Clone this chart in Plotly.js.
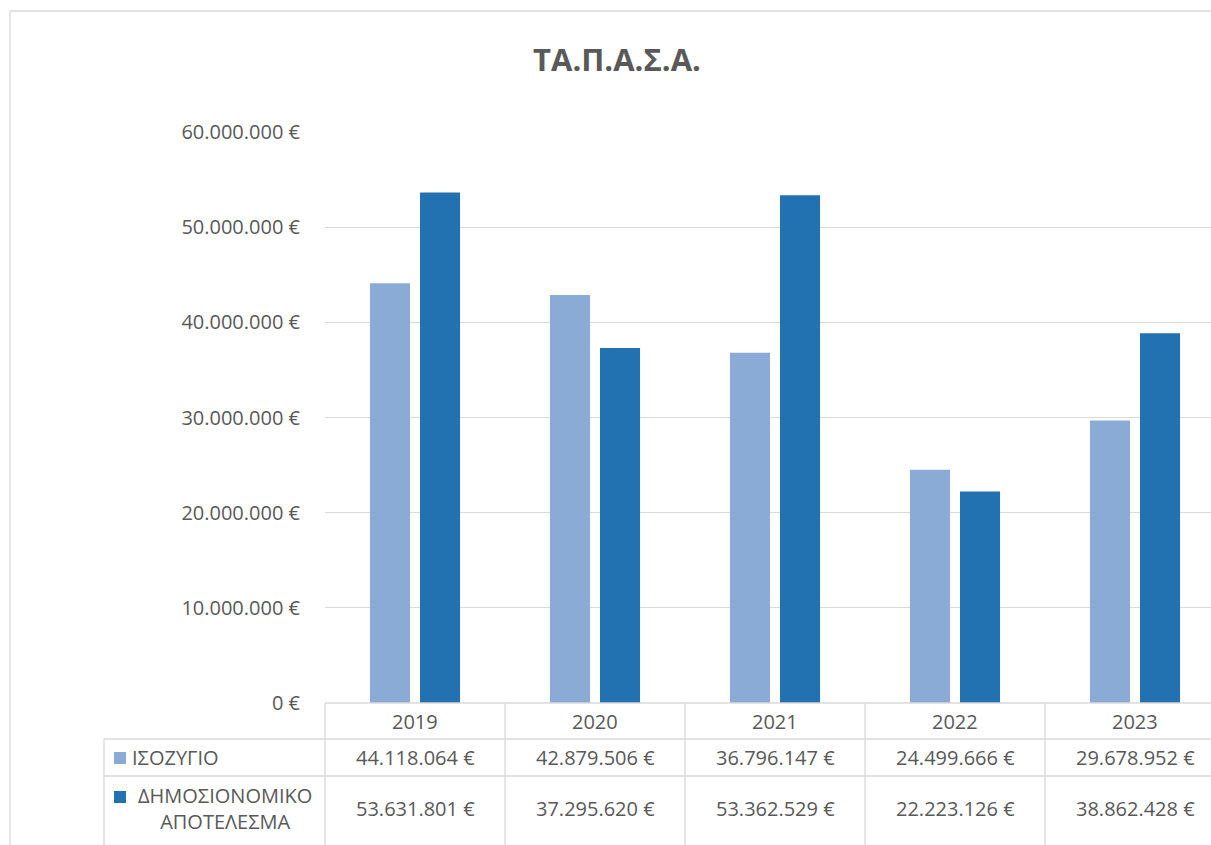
<!DOCTYPE html>
<html>
<head>
<meta charset="utf-8">
<script src="https://cdn.plot.ly/plotly-3.0.1.min.js"></script>
<style>html,body{margin:0;padding:0;background:#fff;}#chart{width:1211px;height:845px;}</style>
</head>
<body>
<div id="chart"></div>
<script>
const years = ['2019', '2020', '2021', '2022', '2023'];
const seriesNames = ['ΙΣΟΖΥΓΙΟ', 'ΔΗΜΟΣΙΟΝΟΜΙΚΟ<br>ΑΠΟΤΕΛΕΣΜΑ'];
const isozygio = [44118064, 42879506, 36796147, 24499666, 29678952];
const dimosionomiko = [53631801, 37295620, 53362529, 22223126, 38862428];
const yTicks = [0, 10000000, 20000000, 30000000, 40000000, 50000000, 60000000];
const colors = ['#8AABD6', '#2271B1'];
const title = 'ΤΑ.Π.Α.Σ.Α.';

function fmt(v) {
  return v.toString().replace(/\B(?=(\d{3})+(?!\d))/g, '.') + ' €';
}

const W = 1211, H = 845;
const L = 325, T = 132, B = 703;
const plotW = W - L, plotH = B - T;
const catW = 180;
const xMax = -0.5 + plotW / catW;
const px = x => (x - L) / plotW;      // pixel -> paper x
const py = y => (B - y) / plotH;      // pixel -> paper y

const font = '"Open Sans", "Noto Sans", sans-serif';
const fs = 20;
const txt = '#595959';
const grid = '#D9D9D9';

const traces = [
  {type: 'bar', name: 'ΙΣΟΖΥΓΙΟ', x: years, y: isozygio, marker: {color: colors[0]}, hoverinfo: 'x+y'},
  {type: 'bar', name: 'ΔΗΜΟΣΙΟΝΟΜΙΚΟ ΑΠΟΤΕΛΕΣΜΑ', x: years, y: dimosionomiko, marker: {color: colors[1]}, hoverinfo: 'x+y'}
];

const shapes = [];
const line = (x0, y0, x1, y1, color) => shapes.push({
  type: 'line', xref: 'paper', yref: 'paper', x0: px(x0), y0: py(y0), x1: px(x1), y1: py(y1),
  line: {color: color || grid, width: 1.3}
});
// outer chart frame
line(10, 11, W + 5, 11);
line(10, 11, 10, H + 5);
// table lines
line(L, 703, W + 5, 703);
line(104, 739, W + 5, 739);
line(104, 776, W + 5, 776);
line(104, 739, 104, H + 5);
for (let k = 0; k <= years.length; k++) {
  const xp = L + k * catW;
  if (xp <= W) line(xp, 703, xp, H + 5);
}
// legend keys
const keyY = [[752, 764], [791, 803]];
keyY.forEach((r, i) => shapes.push({
  type: 'rect', xref: 'paper', yref: 'paper', x0: px(114), x1: px(126), y0: py(r[1]), y1: py(r[0]),
  fillcolor: colors[i], line: {width: 0}
}));

const annotations = [];
const ann = (o) => annotations.push(Object.assign({showarrow: false, font: {family: font, size: fs, color: txt}}, o));
years.forEach((yr, i) => {
  ann({xref: 'x', yref: 'paper', x: i, y: py(721), text: yr, xanchor: 'center', yanchor: 'middle'});
  ann({xref: 'x', yref: 'paper', x: i, y: py(757), text: fmt(isozygio[i]), xanchor: 'center', yanchor: 'middle'});
  ann({xref: 'x', yref: 'paper', x: i, y: py(808), text: fmt(dimosionomiko[i]), xanchor: 'center', yanchor: 'middle'});
});
ann({xref: 'paper', yref: 'paper', x: px(130), y: py(757), text: seriesNames[0], xanchor: 'left', yanchor: 'middle'});
ann({xref: 'paper', yref: 'paper', x: px(225), y: py(808), text: seriesNames[1], xanchor: 'center', yanchor: 'middle', align: 'center'});

const layout = {
  width: W, height: H,
  margin: {l: L, r: 0, t: T, b: H - B, pad: 0},
  paper_bgcolor: '#fff', plot_bgcolor: '#fff',
  title: {text: '<b>' + title + '</b>', font: {family: font, size: 31, color: txt}, x: 617 / W, xanchor: 'center', y: 1 - 60 / H, yanchor: 'middle'},
  showlegend: false,
  barmode: 'group', bargap: 0.444, bargroupgap: 0.2,
  xaxis: {type: 'category', range: [-0.5, xMax], showticklabels: false, showgrid: false, zeroline: false, showline: false, ticks: '', fixedrange: true},
  yaxis: {range: [0, 60000000], tickvals: yTicks, ticktext: yTicks.map(fmt), showgrid: true, gridcolor: grid, gridwidth: 1.3,
          zeroline: false, showline: false, ticks: '', ticklabelstandoff: 24,
          tickfont: {family: font, size: fs, color: txt}, fixedrange: true},
  shapes: shapes, annotations: annotations,
  font: {family: font, color: txt}
};

Plotly.newPlot('chart', traces, layout, {displayModeBar: false, staticPlot: true});
</script>
</body>
</html>
